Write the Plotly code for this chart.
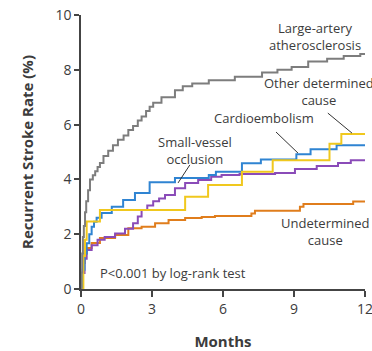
import plotly.graph_objects as go

# Cumulative recurrent stroke rate (%) by month, per stroke subtype (Kaplan-Meier steps)
large_artery_t = [0, 0.02, 0.05, 0.08, 0.12, 0.17, 0.22, 0.3, 0.38, 0.5, 0.6, 0.7, 0.8, 0.95,
                  1.15, 1.35, 1.56, 1.8, 2.0, 2.2, 2.4, 2.56, 2.75, 2.9, 3.05, 3.4, 3.97, 4.3,
                  4.7, 5.4, 6.5, 7.65, 8.3, 8.9, 9.6, 10.4, 11.1, 11.8, 12]
large_artery_v = [0, 0.6, 1.3, 1.9, 2.3, 2.8, 3.2, 3.6, 4.0, 4.15, 4.3, 4.45, 4.6, 4.85,
                  5.05, 5.25, 5.45, 5.6, 5.8, 5.95, 6.15, 6.3, 6.5, 6.65, 6.8, 7.0, 7.25, 7.4,
                  7.5, 7.62, 7.75, 7.9, 8.0, 8.1, 8.3, 8.4, 8.5, 8.58, 8.58]

cardio_t = [0, 0.07, 0.15, 0.24, 0.35, 0.45, 0.55, 0.66, 0.87, 1.3, 1.78, 2.28, 2.9, 3.97,
            5.4, 5.7, 6.8, 7.6, 9.1, 9.7, 10.8, 12]
cardio_v = [0, 0.7, 1.3, 1.67, 2.0, 2.27, 2.45, 2.6, 2.77, 3.0, 3.25, 3.5, 3.9, 4.05,
            4.16, 4.28, 4.59, 4.73, 4.92, 5.1, 5.25, 5.25]

other_t = [0, 0.1, 0.17, 0.24, 0.8, 4.4, 5.37, 6.8, 8.1, 10.5, 11.0, 12]
other_v = [0, 1.2, 1.8, 2.46, 2.88, 3.37, 3.8, 4.28, 4.7, 5.3, 5.66, 5.66]

small_vessel_t = [0, 0.08, 0.15, 0.24, 0.45, 0.7, 1.0, 1.44, 1.86, 2.2, 2.4, 2.56, 2.8, 3.05,
                  3.3, 3.55, 3.97, 4.4, 4.95, 5.5, 5.94, 6.7, 8.2, 9.04, 9.96, 10.86, 11.4, 12]
small_vessel_v = [0, 0.58, 1.1, 1.42, 1.6, 1.8, 1.9, 2.03, 2.2, 2.4, 2.65, 2.88, 3.05, 3.2,
                  3.3, 3.43, 3.68, 3.87, 3.98, 4.1, 4.16, 4.2, 4.23, 4.38, 4.49, 4.6, 4.7, 4.7]

undetermined_t = [0, 0.08, 0.16, 0.24, 0.45, 0.8, 1.44, 2.0, 2.56, 3.13, 3.7, 4.4, 5.1, 5.66,
                  7.2, 7.35, 9.25, 9.4, 11.5, 12]
undetermined_v = [0, 0.95, 1.3, 1.5, 1.68, 1.86, 1.97, 2.22, 2.27, 2.4, 2.52, 2.59, 2.63, 2.66,
                  2.76, 2.86, 3.0, 3.1, 3.19, 3.19]

x_ticks = [0, 3, 6, 9, 12]
y_ticks = [0, 2, 4, 6, 8, 10]

FONT = "Open Sans"
TEXT = "#3c3c3c"

series = [
    ("Undetermined cause", undetermined_t, undetermined_v, "#e07d1c"),
    ("Small-vessel occlusion", small_vessel_t, small_vessel_v, "#8a4bb8"),
    ("Cardioembolism", cardio_t, cardio_v, "#2f84d2"),
    ("Other determined cause", other_t, other_v, "#f0c81e"),
    ("Large-artery atherosclerosis", large_artery_t, large_artery_v, "#7d7d7d"),
]

fig = go.Figure()
for name, t, v, color in series:
    fig.add_trace(go.Scatter(x=t, y=v, mode="lines", name=name,
                             line=dict(color=color, width=2, shape="hv"),
                             showlegend=False, hoverinfo="skip"))

def label(text, x, y, xanchor="center"):
    fig.add_annotation(x=x, y=y, xref="x", yref="y", text=text, showarrow=False,
                       xanchor=xanchor, yanchor="middle", align="center",
                       font=dict(family=FONT, size=13, color=TEXT))

def leader(x0, y0, x1, y1):
    fig.add_shape(type="line", xref="x", yref="y", x0=x0, y0=y0, x1=x1, y1=y1,
                  line=dict(color="#333333", width=1))

label("Large-artery<br>atherosclerosis", 9.88, 9.2)
label("Other determined<br>cause", 10.06, 7.22)
label("Cardioembolism", 7.73, 6.24)
label("Small-vessel<br>occlusion", 4.8, 5.07)
label("Undetermined<br>cause", 10.35, 2.1)
label("P<0.001 by log-rank test", 0.72, 0.6, xanchor="left")

leader(10.43, 6.42, 11.45, 5.69)
leader(8.24, 5.73, 9.17, 4.96)
leader(4.6, 4.53, 4.1, 3.87)

axis_common = dict(showgrid=False, zeroline=False, showline=True, linecolor="#444444",
                   linewidth=1.5, ticks="outside", tickcolor="#444444", tickwidth=1.5,
                   ticklabeloverflow="allow", automargin=False,
                   tickfont=dict(family=FONT, size=14, color=TEXT))

fig.update_xaxes(range=[0, 12], tickvals=x_ticks, ticklen=6,
                 title=dict(text="<b>Months</b>", font=dict(family=FONT, size=15, color=TEXT),
                            standoff=21),
                 **axis_common)
fig.update_yaxes(range=[0, 10], tickvals=y_ticks, ticklen=5,
                 title=dict(text="<b>Recurrent Stroke Rate (%)</b>",
                            font=dict(family=FONT, size=15, color=TEXT), standoff=18),
                 **axis_common)

fig.update_layout(width=372, height=351, margin=dict(l=81, r=7, t=15, b=62, autoexpand=False),
                  paper_bgcolor="white", plot_bgcolor="white")

fig.write_html("out.html")
